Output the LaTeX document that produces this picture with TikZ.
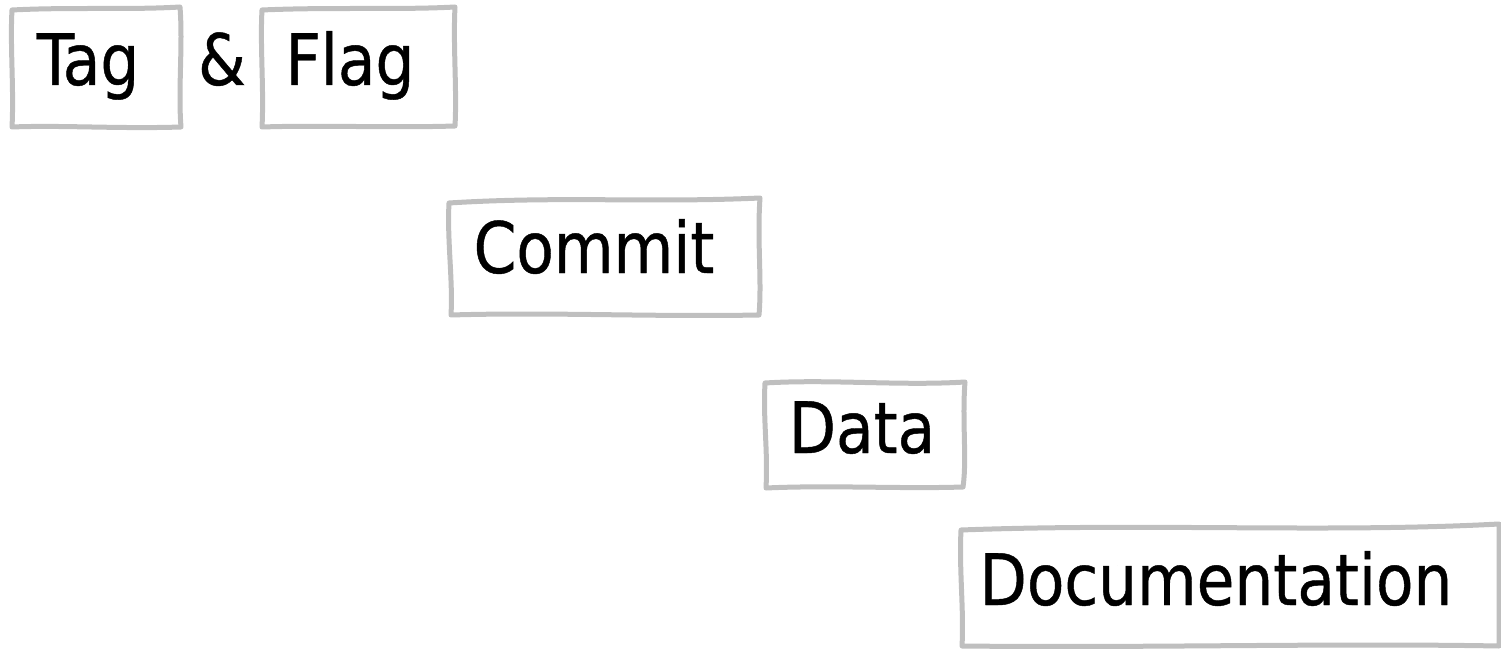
\documentclass[tikz,border=0pt]{standalone}
\usepackage{fontspec}
\setmainfont[FakeStretch=0.96,FakeBold=0.6]{DejaVu Sans Condensed}
\tikzset{
  sketch/.style={draw=black!25, line width=5pt, line cap=round, line join=round},
  lbl/.style={anchor=base, inner sep=0pt, font=\fontsize{71}{80}\selectfont, text=black}
}
\begin{document}
\begin{tikzpicture}[x=1pt,y=-1pt]
\useasboundingbox (0,0) rectangle (1501,652);
% labels
\node[lbl] (tag) at (88,85) {Tag};
\node[lbl] (amp) at (222,85) {\&};
\node[lbl] (flag) at (350,85) {Flag};
\node[lbl] (commit) at (594,273) {Commit};
\node[lbl] (data) at (862,453) {Data};
\node[lbl] (doc) at (1216,605) {Documentation};
% hand-drawn boxes
\draw[sketch] (12,10) .. controls (70,7) and (130,10) .. (180,7)
  .. controls (183,45) and (178,90) .. (181,127)
  .. controls (120,129) and (60,125) .. (12,127)
  .. controls (14,90) and (10,45) .. (12,10);
\draw[sketch] (262,10) .. controls (330,7) and (400,10) .. (455,7)
  .. controls (453,45) and (457,90) .. (455,126)
  .. controls (390,128) and (320,125) .. (262,127)
  .. controls (264,90) and (260,45) .. (262,10);
\draw[sketch] (449,203) .. controls (560,196) and (650,203) .. (760,198)
  .. controls (757,240) and (762,280) .. (759,315)
  .. controls (650,317) and (550,312) .. (451,315)
  .. controls (453,280) and (447,240) .. (449,203);
\draw[sketch] (765,383) .. controls (830,379) and (900,386) .. (965,382)
  .. controls (962,420) and (967,460) .. (963,487)
  .. controls (900,489) and (830,485) .. (766,488)
  .. controls (768,450) and (763,420) .. (765,383);
\draw[sketch] (961,530) .. controls (1150,523) and (1330,533) .. (1499,524)
  -- (1499,646)
  .. controls (1330,643) and (1150,648) .. (962,646)
  .. controls (964,610) and (959,570) .. (961,530);
\end{tikzpicture}
\end{document}
